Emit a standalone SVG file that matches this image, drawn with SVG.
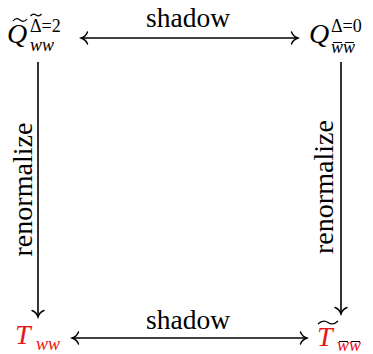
<svg xmlns="http://www.w3.org/2000/svg" width="373" height="354" viewBox="0 0 373 354">
<style>
.lbl{font-size:28px}
.m{font-size:28px;font-style:italic}
.sup{font-size:18px}
.sub{font-size:18px;font-style:italic}
.red{fill:#e8141b}
.edge{stroke:#000;stroke-width:1.6;fill:none}
.acc{stroke:#000;stroke-width:1.2;fill:none}
</style>
<defs>
<marker id="ah" viewBox="-8 -8 10 16" refX="0" refY="0" markerWidth="10" markerHeight="16" markerUnits="userSpaceOnUse" orient="auto-start-reverse">
<path d="M-6.5,-6 C-5.5,-3 -2.5,-0.8 0,0 C-2.5,0.8 -5.5,3 -6.5,6" fill="none" stroke="#000" stroke-width="1.4" stroke-linecap="round"/>
</marker>
</defs>
<g id="connectors">
<line class="edge" x1="81" y1="38" x2="298" y2="38" marker-start="url(#ah)" marker-end="url(#ah)"/>
<text class="lbl" style="font-family:'Liberation Serif',serif" x="188" y="27" text-anchor="middle" textLength="84" lengthAdjust="spacingAndGlyphs">shadow</text>
<line class="edge" x1="72" y1="338" x2="307" y2="338" marker-start="url(#ah)" marker-end="url(#ah)"/>
<text class="lbl" style="font-family:'Liberation Serif',serif" x="188" y="329" text-anchor="middle" textLength="84" lengthAdjust="spacingAndGlyphs">shadow</text>
<line class="edge" x1="38" y1="62" x2="38" y2="317" marker-end="url(#ah)"/>
<text class="lbl" style="font-family:'Liberation Serif',serif" transform="translate(32,189.5) rotate(-90)" text-anchor="middle" textLength="134" lengthAdjust="spacingAndGlyphs">renormalize</text>
<line class="edge" x1="341" y1="62" x2="341" y2="314" marker-end="url(#ah)"/>
<text class="lbl" style="font-family:'Liberation Serif',serif" transform="translate(333,187) rotate(-90)" text-anchor="middle" textLength="134" lengthAdjust="spacingAndGlyphs">renormalize</text>
</g>
<g id="node-q-ww">
<text class="m" style="font-family:'Liberation Serif',serif" x="7" y="43">Q</text>
<path class="acc" d="M13,21 q3,-4 7,-1 t7,-1"/>
<text class="sup" style="font-family:'Liberation Serif',serif" x="30" y="32">Δ=2</text>
<path class="acc" d="M30.5,16 q2.5,-3 5.5,-1 t5.5,-1"/>
<text class="sub" style="font-family:'Liberation Serif',serif" x="30" y="51">ww</text>
</g>
<g id="node-q-wbar">
<text class="m" style="font-family:'Liberation Serif',serif" x="309" y="43">Q</text>
<text class="sup" style="font-family:'Liberation Serif',serif" x="331" y="32">Δ=0</text>
<text class="sub" style="font-family:'Liberation Serif',serif" x="331" y="53">ww</text>
<path class="acc" d="M333,42.5 h9 M345,42.5 h9"/>
</g>
<g id="node-t-ww">
<text class="m red" style="font-family:'Liberation Serif',serif" x="15" y="344">T</text>
<text class="sub red" style="font-family:'Liberation Serif',serif" x="36" y="350">ww</text>
</g>
<g id="node-t-wbar">
<text class="m red" style="font-family:'Liberation Serif',serif" x="317" y="346">T</text>
<path class="acc" d="M318,324 q5,-5 10,-1.5 t10,-1.5" stroke="#e8141b"/>
<text class="sub red" style="font-family:'Liberation Serif',serif" x="337" y="351">ww</text>
<path class="acc" d="M339,341.5 h9 M351,341.5 h9" stroke="#e8141b"/>
</g>
</svg>
